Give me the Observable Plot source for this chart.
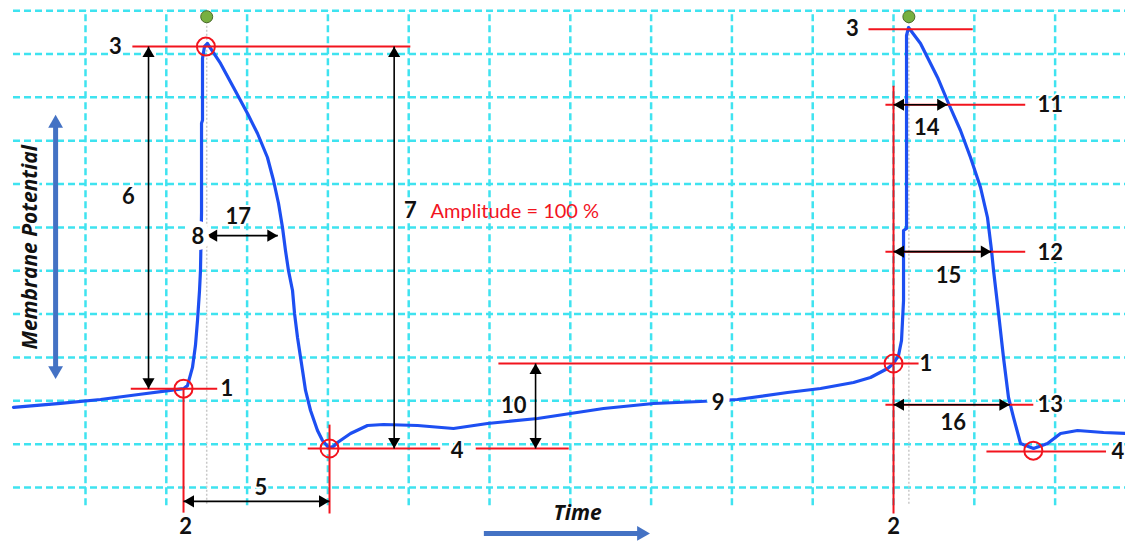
<!DOCTYPE html>
<html>
<head>
<meta charset="utf-8">
<script src="https://cdn.jsdelivr.net/npm/d3@7"></script>
<script src="https://cdn.jsdelivr.net/npm/@observablehq/plot@0.6"></script>
<style>
  html, body { margin: 0; padding: 0; background: #fff; }
  #chart svg { display: block; }
</style>
</head>
<body>
<div id="chart"></div>
<script>
// ---- data (time in ms, membrane potential in mV; grid = 10 ms x 10 mV) ----
const traceTime = [1.09, 6.91, 11.86, 16.81, 20.52, 22.13, 22.62, 23.24, 23.61, 23.86, 24.11, 24.23, 24.36, 24.36, 24.48, 24.48, 24.73, 25.10,
  26.71, 28.32, 30.05, 31.29, 32.52, 33.27, 33.89, 34.38, 34.75, 35.12, 35.62, 35.87, 36.24, 36.86, 37.23, 37.85, 38.71, 39.33, 40.07, 40.69,
  41.19, 42.80, 44.90, 46.88, 51.09, 55.54, 59.75, 65.94, 70.02, 74.11, 80.29, 86.11, 90.69, 96.88, 100.97, 105.05, 107.15, 109.26, 110.0,
  110.62, 110.99, 111.24, 111.24, 111.61, 111.61, 111.86, 113.34, 115.45, 116.81, 118.29, 119.53, 120.77, 121.63, 122.13, 122.38, 123.00,
  123.61, 124.23, 124.85, 125.72, 127.33, 129.06, 130.67, 132.77, 135.99, 138.71];
const traceMv = [-71.5, -70.6, -69.7, -68.5, -67.6, -67.2, -66.5, -62.3, -57.2, -51.5, -44.6, -39.9, -26.6, -6.0, -5.3, 8.96, 11.73, 12.42,
  7.81, 2.27, -3.73, -8.34, -13.88, -19.18, -24.49, -30.02, -35.33, -39.94, -44.56, -49.86, -55.40, -63.01, -67.62, -72.24, -76.85, -79.16, -80.77, -80.54,
  -79.62, -77.54, -75.70, -75.47, -75.70, -76.39, -75.24, -74.08, -72.93, -71.78, -70.62, -70.16, -69.70, -68.09, -67.16, -65.78, -64.63, -62.55, -61.40,
  -59.55, -56.09, -46.86, -30.71, -30.25, 14.27, 16.11, 12.42, 4.58, -1.42, -7.65, -13.88, -20.80, -27.72, -35.33, -39.94, -49.86,
  -60.01, -69.24, -73.85, -79.85, -81.00, -79.85, -77.54, -76.85, -77.31, -77.54];

const gridTimes = [10, 20, 30, 40, 50, 60, 70, 80, 90, 100, 110, 120, 130];
const gridMvs = [-90, -80, -70, -60, -50, -40, -30, -20, -10, 0, 10, 20];
const gridTimeRange = [1.09, 138.71];
const gridMvRange = [-94.2, 20.04];

const redHLines = [
  {t1: 15.8, t2: 50.2, v: 11.7},
  {t1: 15.6, t2: 26.3, v: -67.2},
  {t1: 37.5, t2: 53.9, v: -81.0},
  {t1: 58.3, t2: 69.8, v: -81.0},
  {t1: 61.1, t2: 113.1, v: -61.4},
  {t1: 106.9, t2: 119.8, v: 15.7},
  {t1: 109.0, t2: 126.3, v: -1.7},
  {t1: 109.0, t2: 126.3, v: -35.6},
  {t1: 109.0, t2: 127.3, v: -70.9},
  {t1: 121.5, t2: 136.3, v: -81.7}
];
const redVLines = [
  {t: 22.13, v1: -67.2, v2: -95.8},
  {t: 40.2, v1: -75.5, v2: -96.0},
  {t: 110.0, v1: 2.7, v2: -96.0}
];
const eventCircles = [
  {t: 22.13, v: -67.2}, {t: 24.9, v: 11.7}, {t: 40.2, v: -81.0},
  {t: 110.0, v: -61.4}, {t: 127.3, v: -81.5}
];
const peakTimes = [25.0, 111.9];
const peakMarkerMv = 18.6;
const peakLineMv = [17.3, -94.2];

const vArrows = [
  {t: 17.8, v1: 11.7, v2: -67.2},
  {t: 48.2, v1: 11.7, v2: -81.0},
  {t: 65.7, v1: -61.4, v2: -81.0}
];
const hArrows = [
  {v: -31.9, t1: 25.0, t2: 33.8},
  {v: -93.2, t1: 22.13, t2: 40.2},
  {v: -1.7, t1: 110.0, t2: 116.7},
  {v: -35.6, t1: 110.0, t2: 122.1},
  {v: -70.9, t1: 110.0, t2: 124.4}
];
const labels = [
  {t: 13.7, v: 11.7, text: "3"}, {t: 15.3, v: -22.9, text: "6"}, {t: 23.9, v: -32.1, text: "8", gap: true},
  {t: 28.9, v: -27.7, text: "17"}, {t: 27.5, v: -67.2, text: "1"}, {t: 22.4, v: -99.2, text: "2"},
  {t: 31.7, v: -90.0, text: "5"}, {t: 50.2, v: -26.1, text: "7"}, {t: 56.0, v: -81.5, text: "4"},
  {t: 63.0, v: -71.1, text: "10"}, {t: 88.3, v: -70.6, text: "9", gap: true}, {t: 104.9, v: 15.7, text: "3"},
  {t: 129.4, v: -1.7, text: "11"}, {t: 114.1, v: -7.0, text: "14"}, {t: 129.4, v: -35.8, text: "12"},
  {t: 116.8, v: -41.1, text: "15"}, {t: 114.0, v: -61.4, text: "1"}, {t: 129.4, v: -70.9, text: "13"},
  {t: 117.4, v: -75.2, text: "16"}, {t: 110.0, v: -99.2, text: "2"}
];
const edgeLabel = {t: 138.55, v: -81.9, text: "4"};
const amplitudeNote = {t: 52.7, v: -26.3, text: "Amplitude = 100 %"};
const axisArrowV = {t: 6.3, v1: -6.0, v2: -63.0};
const axisArrowH = {v: -100.6, t1: 59.3, t2: 78.8};
const yTitle = {t: 3.2, v: -34.6, text: "Membrane Potential"};
const xTitle = {t: 70.9, v: -96.0, text: "Time"};

// ---- chart ----
const trace = traceTime.map((t, i) => ({t, v: traceMv[i]}));
const RED = "#f2141e", BLUE = "#1d4ff2", CYAN = "#3fe3f0", AXBLUE = "#4472c4";
const FONT = "Lato, 'Open Sans', sans-serif";
const TITLEFONT = "'Open Sans', Lato, sans-serif";

const upHeads = vArrows.map(d => ({t: d.t, v: d.v1}));
const downHeads = vArrows.map(d => ({t: d.t, v: d.v2}));
const leftHeads = hArrows.map(d => ({t: d.t1, v: d.v}));
const rightHeads = hArrows.map(d => ({t: d.t2, v: d.v}));

const chart = Plot.plot({
  width: 1125,
  height: 542,
  margin: 0,
  x: {domain: [-0.52, 138.71], axis: null},
  y: {domain: [-102.69, 22.34], axis: null},
  style: {background: "white", fontFamily: FONT},
  marks: [
    Plot.ruleX(gridTimes, {x: d => d, y1: gridMvRange[0], y2: gridMvRange[1], stroke: CYAN, strokeWidth: 2.5, strokeDasharray: "7,4"}),
    Plot.ruleY(gridMvs, {y: d => d, x1: gridTimeRange[0], x2: gridTimeRange[1], stroke: CYAN, strokeWidth: 2.5, strokeDasharray: "7,4"}),
    Plot.ruleX(peakTimes, {x: d => d, y1: peakLineMv[0], y2: peakLineMv[1], stroke: "#c8c8c8", strokeWidth: 1.5, strokeDasharray: "2,2"}),
    Plot.line(trace, {x: "t", y: "v", stroke: BLUE, strokeWidth: 3.2, strokeLinejoin: "round"}),
    Plot.dot(peakTimes, {x: d => d, y: peakMarkerMv, r: 6, fill: "#77b040", stroke: "#4a6a2a", strokeWidth: 1}),
    Plot.link(redHLines, {x1: "t1", x2: "t2", y1: "v", y2: "v", stroke: RED, strokeWidth: 2}),
    Plot.link(redVLines, {x1: "t", x2: "t", y1: "v1", y2: "v2", stroke: RED, strokeWidth: 2}),
    Plot.dot(eventCircles, {x: "t", y: "v", r: 9, stroke: RED, strokeWidth: 2, fill: "none"}),
    // black measurement arrows
    Plot.link(vArrows, {x1: "t", x2: "t", y1: "v1", y2: "v2", stroke: "#000", strokeWidth: 1.6}),
    Plot.link(hArrows, {x1: "t1", x2: "t2", y1: "v", y2: "v", stroke: "#000", strokeWidth: 1.6}),
    Plot.dot(upHeads, {x: "t", y: "v", symbol: "triangle", r: 4.5, fill: "#000", stroke: "none", dy: 7}),
    Plot.dot(downHeads, {x: "t", y: "v", symbol: "triangle", r: 4.5, fill: "#000", stroke: "none", rotate: 180, dy: -7}),
    Plot.dot(leftHeads, {x: "t", y: "v", symbol: "triangle", r: 4.5, fill: "#000", stroke: "none", rotate: -90, dx: 7}),
    Plot.dot(rightHeads, {x: "t", y: "v", symbol: "triangle", r: 4.5, fill: "#000", stroke: "none", rotate: 90, dx: -7}),
    // axis arrows
    Plot.link([axisArrowV], {x1: "t", x2: "t", y1: "v1", y2: "v2", stroke: AXBLUE, strokeWidth: 5}),
    Plot.dot([axisArrowV], {x: "t", y: "v1", symbol: "triangle", r: 5.5, fill: AXBLUE, stroke: "none"}),
    Plot.dot([axisArrowV], {x: "t", y: "v2", symbol: "triangle", r: 5.5, fill: AXBLUE, stroke: "none", rotate: 180}),
    Plot.link([axisArrowH], {x1: "t1", x2: "t2", y1: "v", y2: "v", stroke: AXBLUE, strokeWidth: 5}),
    Plot.dot([axisArrowH], {x: "t2", y: "v", symbol: "triangle", r: 5.5, fill: AXBLUE, stroke: "none", rotate: 90}),
    // labels
    Plot.text(labels.filter(d => !d.gap), {x: "t", y: "v", text: "text", fontSize: 22, fontWeight: "bold", fill: "#111", stroke: "white", strokeWidth: 4}),
    Plot.text(labels.filter(d => d.gap), {x: "t", y: "v", text: "text", fontSize: 22, fontWeight: "bold", fill: "#111", stroke: "white", strokeWidth: 12}),
    Plot.text([edgeLabel], {x: "t", y: "v", text: "text", textAnchor: "end", fontSize: 22, fontWeight: "bold", fill: "#111", stroke: "white", strokeWidth: 4}),
    Plot.text([amplitudeNote], {x: "t", y: "v", text: "text", textAnchor: "start", fontSize: 20, fill: RED}),
    Plot.text([yTitle], {x: "t", y: "v", text: "text", rotate: -90, fontFamily: TITLEFONT, fontSize: 21, fontWeight: "bold", fontStyle: "italic", fill: "#111", stroke: "white", strokeWidth: 4}),
    Plot.text([xTitle], {x: "t", y: "v", text: "text", fontFamily: TITLEFONT, fontSize: 21, fontWeight: "bold", fontStyle: "italic", fill: "#111"})
  ]
});
document.getElementById("chart").appendChild(chart);
</script>
</body>
</html>
